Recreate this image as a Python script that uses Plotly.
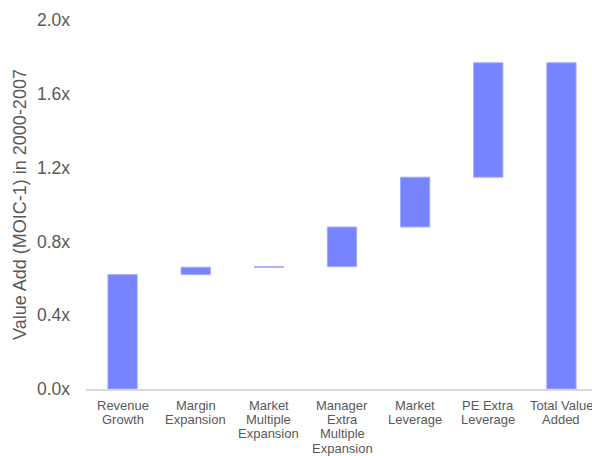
import plotly.graph_objects as go

# Value-add decomposition (MOIC - 1), 2000-2007
categories = [
    "Revenue Growth",
    "Margin Expansion",
    "Market Multiple Expansion",
    "Manager Extra Multiple Expansion",
    "Market Leverage",
    "PE Extra Leverage",
    "Total Value Added",
]
label_lines = [
    ["Revenue", "Growth"],
    ["Margin", "Expansion"],
    ["Market", "Multiple", "Expansion"],
    ["Manager", "Extra", "Multiple", "Expansion"],
    ["Market", "Leverage"],
    ["PE Extra", "Leverage"],
    ["Total Value", "Added"],
]
contributions = [0.62, 0.04, 0.003, 0.215, 0.27, 0.62, 0]
measures = ["relative"] * 6 + ["total"]

BAR = "#7783FF"
EDGE = "#A3ABFF"
TEXT = "#595959"
FONT = "Liberation Sans, Arial, sans-serif"

fig = go.Figure(
    go.Waterfall(
        x=categories,
        y=contributions,
        measure=measures,
        increasing=dict(marker=dict(color=BAR, line=dict(color=EDGE, width=1))),
        decreasing=dict(marker=dict(color=BAR, line=dict(color=EDGE, width=1))),
        totals=dict(marker=dict(color=BAR, line=dict(color=EDGE, width=1))),
        connector=dict(visible=False),
        width=0.4,
        hoverinfo="skip",
    )
)

# Multi-line category labels, one annotation per line for tight line spacing
for cat, lines in zip(categories, label_lines):
    for i, line in enumerate(lines):
        fig.add_annotation(
            x=cat,
            xref="x",
            y=0,
            yref="paper",
            yanchor="top",
            yshift=-7 - 14.2 * i,
            text=line,
            showarrow=False,
            font=dict(size=13, color=TEXT, family=FONT),
        )

fig.update_layout(
    width=592,
    height=456,
    margin=dict(l=86, r=0, t=20, b=67),
    paper_bgcolor="white",
    plot_bgcolor="white",
    showlegend=False,
    font=dict(family=FONT, color=TEXT),
    xaxis=dict(
        type="category",
        range=[-0.5, 6.418],
        showticklabels=False,
        showgrid=False,
        showline=True,
        linecolor="#D9D9D9",
        linewidth=2,
        ticks="",
        zeroline=False,
    ),
    yaxis=dict(
        range=[0, 2.0],
        dtick=0.4,
        tick0=0,
        tickformat=".1f",
        ticksuffix="x",
        showgrid=False,
        showline=False,
        zeroline=False,
        ticks="",
        ticklabelstandoff=15,
        tickfont=dict(size=17.5, color=TEXT),
        title=dict(
            text="Value Add (MOIC-1) in 2000-2007",
            font=dict(size=18, color=TEXT),
            standoff=5,
        ),
    ),
)

fig.write_html("out.html")
